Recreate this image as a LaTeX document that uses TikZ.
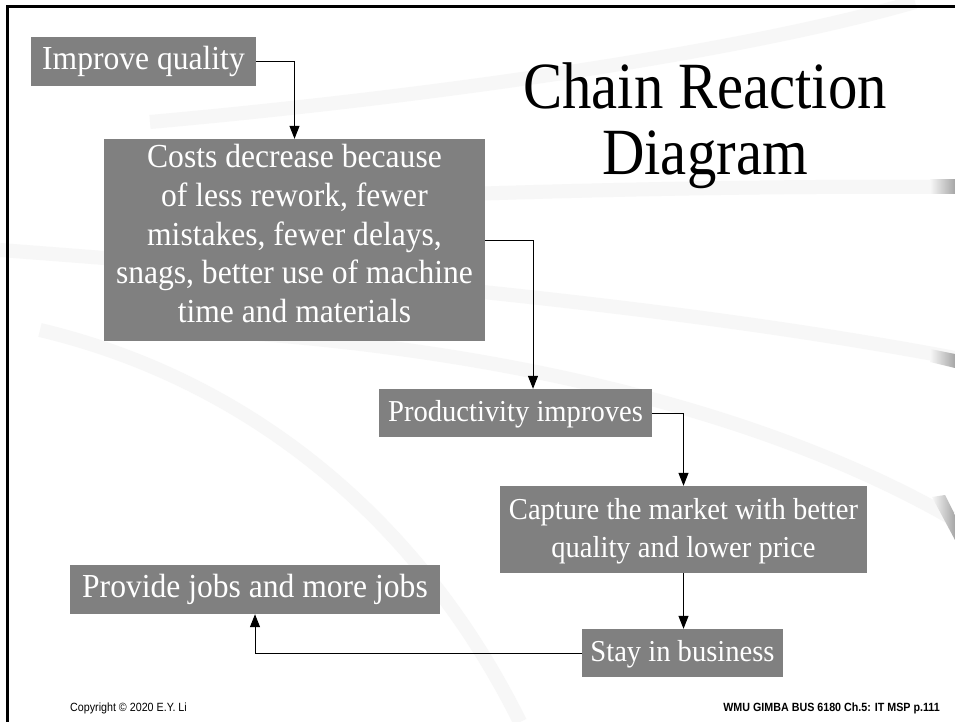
\documentclass[tikz,border=0pt]{standalone}
\usepackage{fontspec}
\setmainfont{Liberation Serif}
\newfontfamily\boxfont{Liberation Serif}[FakeStretch=0.94]
\newfontfamily\titlefont{Liberation Serif}[FakeStretch=0.89]
\newfontfamily\footfont{Liberation Sans}[FakeStretch=0.9]
\usetikzlibrary{arrows.meta}
\definecolor{boxgray}{RGB}{128,128,128}
\definecolor{swoosh}{RGB}{247,247,247}
\newcommand\bst{\rule[-6pt]{0pt}{30pt}}
\begin{document}
\begin{tikzpicture}[x=1pt,y=-1pt,
  box/.style={fill=boxgray,text=white,inner sep=0pt,align=center,
    font=\boxfont\fontsize{33.6}{38.7}\selectfont},
  smallbox/.style={box,font=\boxfont\fontsize{30.4}{38.3}\selectfont},
  conn/.style={draw=black,line width=1pt,-{Triangle[width=10pt,length=13pt]}},
  band/.style={draw=swoosh,line width=14pt},
  stub/.style={left color=swoosh,right color=gray!70},
  foot/.style={inner sep=0pt,font=\footfont\fontsize{11.9}{12}\selectfont},
  titletext/.style={inner sep=0pt,align=center,font=\titlefont\fontsize{66}{66}\selectfont}]
\useasboundingbox (0,0) rectangle (955,722);
\fill[white] (0,0) rectangle (955,722);
% background swooshes
\draw[band] (150,122) .. controls (450,95) and (750,50) .. (915,2);
\draw[band] (300,200) .. controls (600,188) and (800,186) .. (955,187);
\draw[band] (0,250) .. controls (400,280) and (700,310) .. (955,358);
\draw[band] (200,330) .. controls (550,350) and (800,430) .. (955,520);
\draw[band] (40,330) .. controls (250,380) and (420,520) .. (520,722);
\shade[stub] (930,180) rectangle (955,194);
\shade[stub] (930,349) -- (955,354) -- (955,368) -- (930,362) -- cycle;
\shade[stub] (932,497) -- (945,495) -- (955,515) -- (955,540) -- cycle;
% frame
\draw[line width=3pt] (7,722) -- (7,6.5) -- (955,6.5);
% title
\node[titletext,anchor=north] (title) at (705,62.3) {Chain Reaction\\Diagram};
% boxes
\node[box,minimum width=225pt,minimum height=49pt] (b1) at (143.5,61.5) {\bst Improve quality};
\node[box,minimum width=381pt,minimum height=202pt] (b2) at (294.5,240)
  {\rule{0pt}{26pt}Costs decrease because\\ of less rework, fewer\\ mistakes, fewer delays,\\ snags, better use of machine\\ time and materials\rule[-16pt]{0pt}{0pt}};
\node[smallbox,minimum width=273pt,minimum height=48pt] (b3) at (515.5,413) {\bst Productivity improves};
\node[smallbox,minimum width=367pt,minimum height=87pt] (b4) at (683.5,529.5)
  {\bst Capture the market with better\\ \bst quality and lower price};
\node[smallbox,minimum width=201pt,minimum height=48pt] (b5) at (682.5,653) {\bst Stay in business};
\node[box,minimum width=370pt,minimum height=49pt] (b6) at (255,589.5) {\bst Provide jobs and more jobs};
% connectors
\draw[conn] (b1.east) -| (b2.north);
\draw[conn] (b2.east) -| ([xshift=17.5pt]b3.north);
\draw[conn] (b3.east) -| (b4.north);
\draw[conn] (b4.south) -- (b4.south |- b5.north);
\draw[conn] (b5.west) -| (b6.south);
% footer
\node[foot,anchor=base west] (copy) at (70,711) {Copyright © 2020 E.Y. Li};
\node[foot,anchor=base east] (page) at (940,711) {\bfseries WMU GIMBA BUS 6180 Ch.5: IT MSP p.111};
\end{tikzpicture}
\end{document}
